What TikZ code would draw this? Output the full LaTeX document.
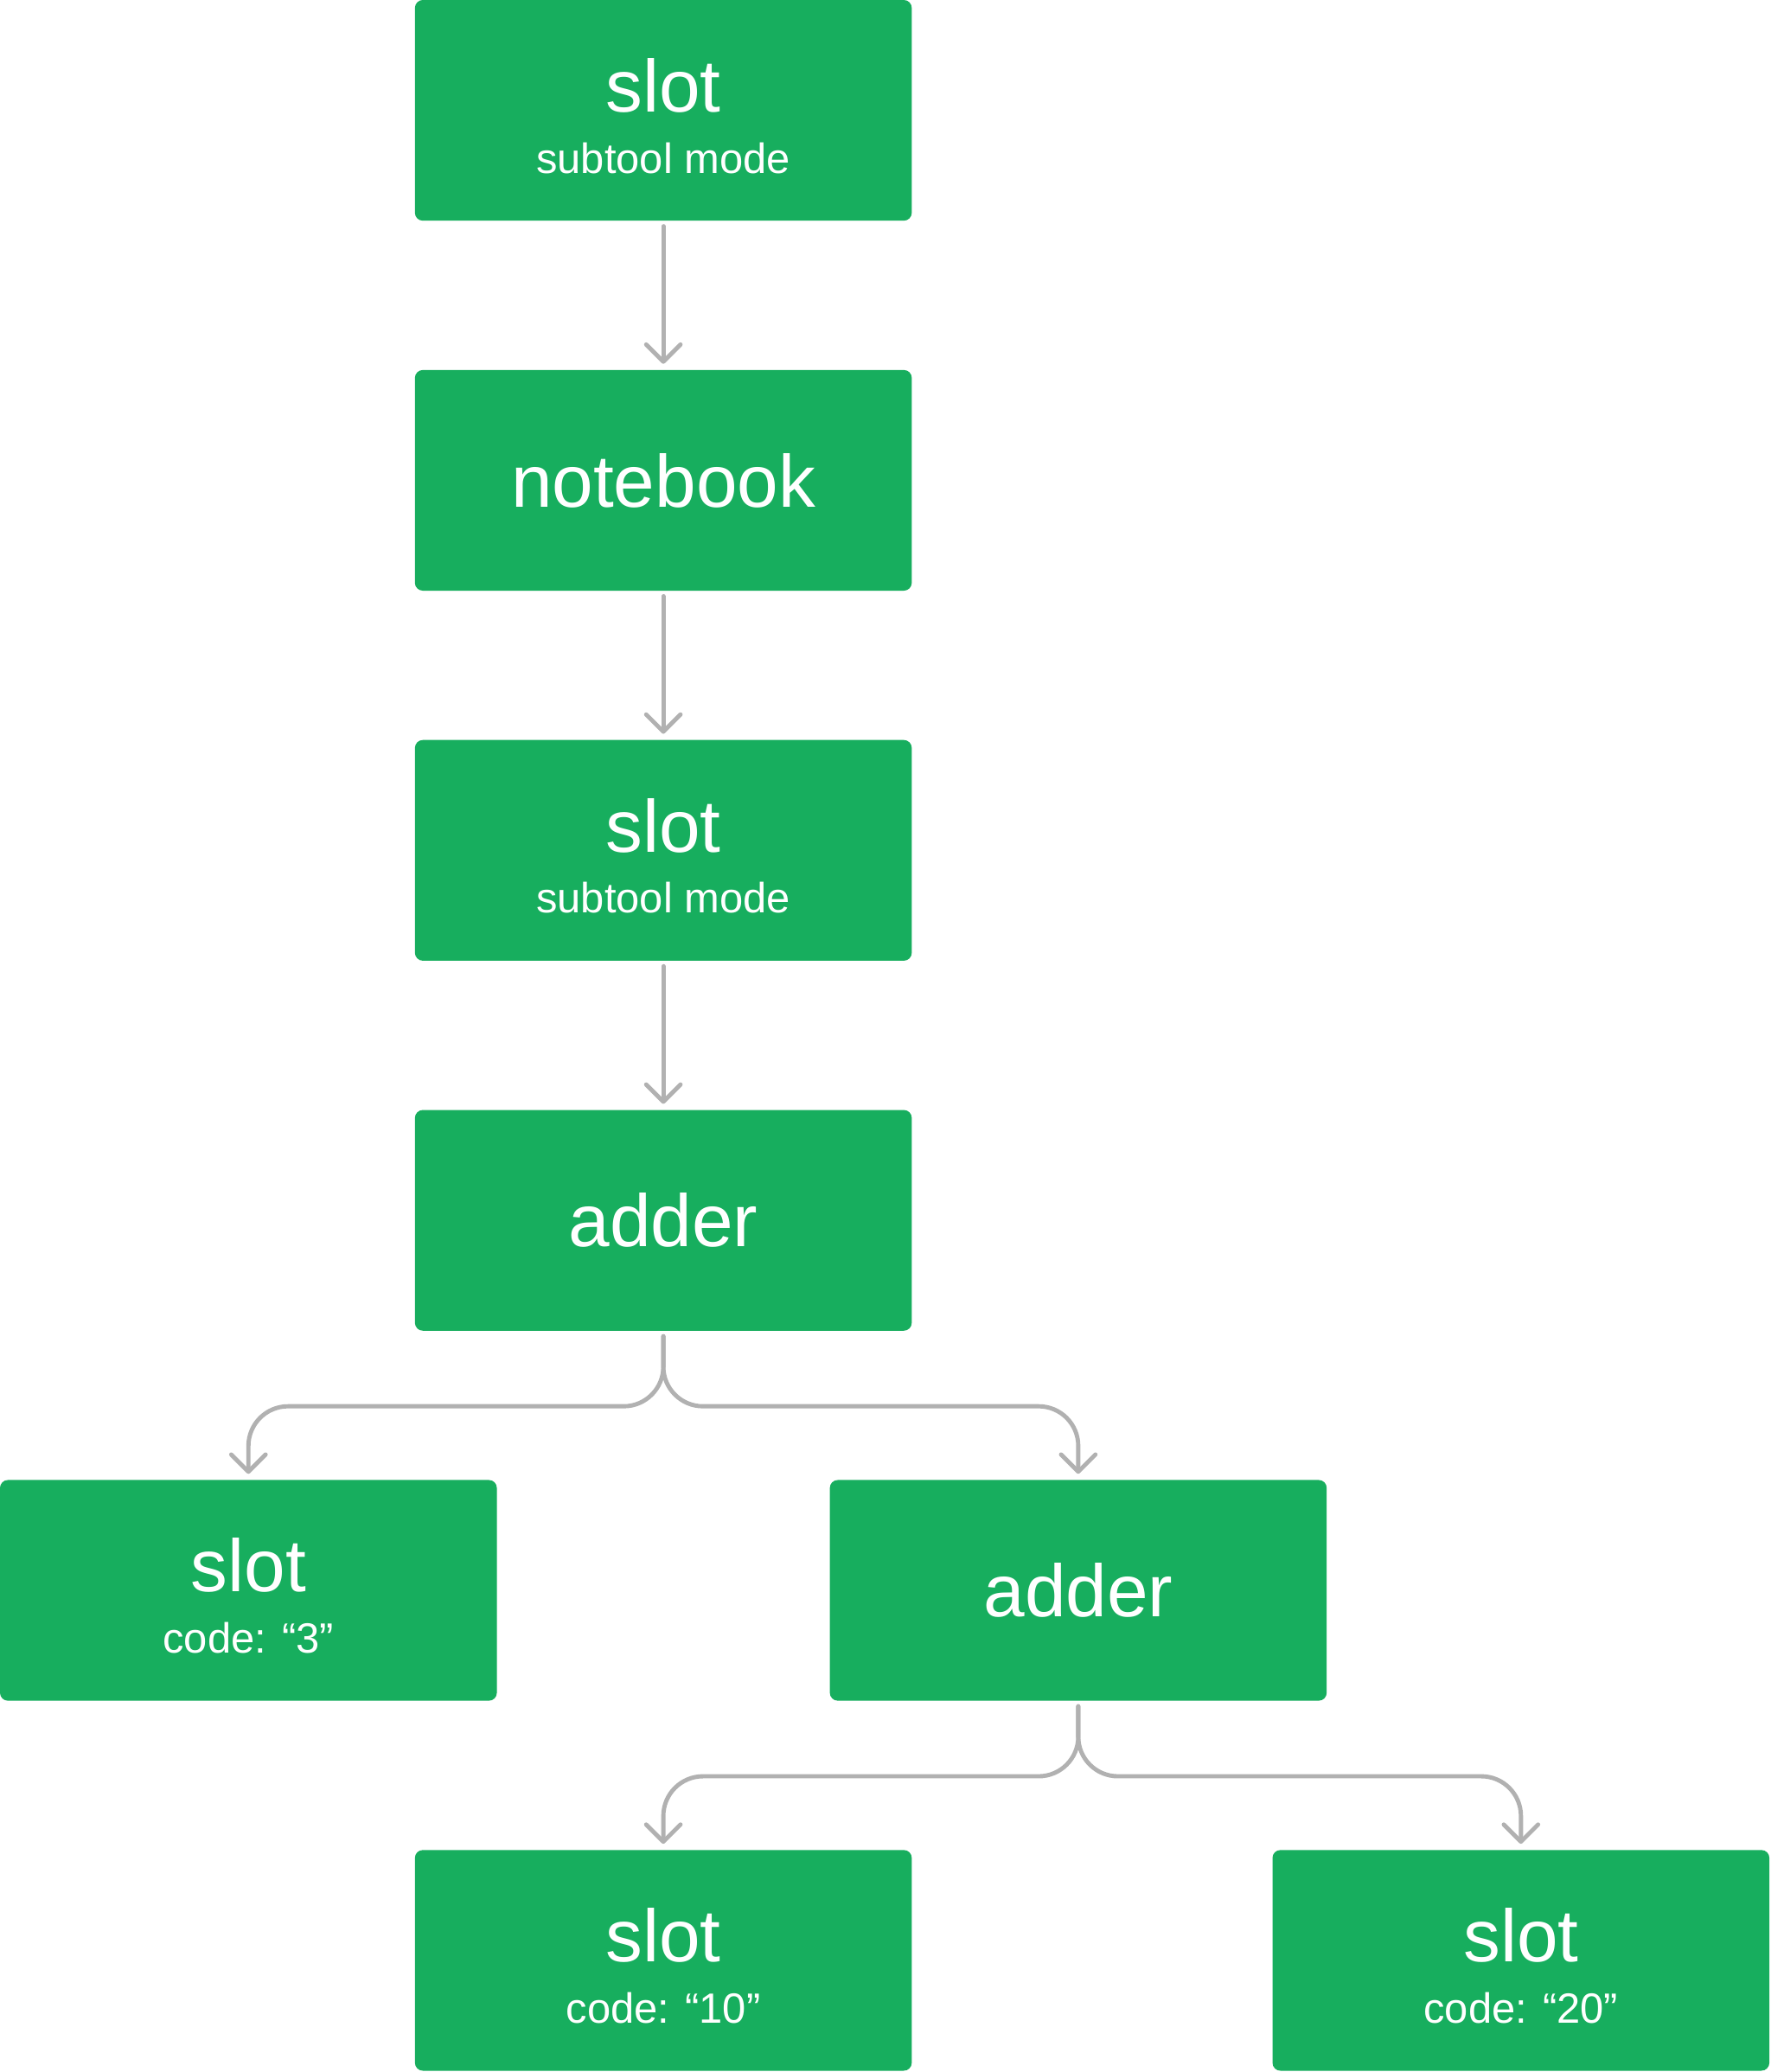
\documentclass[tikz,border=0pt]{standalone}
\usepackage{fontspec}
\setmainfont{Liberation Sans}
\usetikzlibrary{arrows.meta}
\definecolor{boxgreen}{HTML}{17AE5E}
\definecolor{linkgray}{HTML}{B1B1B1}
\tikzset{
  block/.style={fill=boxgreen,rounded corners=6pt,minimum width=376pt,minimum height=167pt,inner sep=0pt},
  blocktitle/.style={text=white,anchor=base,inner sep=0pt,font=\fontsize{56}{60}\selectfont},
  blocknote/.style={text=white,anchor=base,inner sep=0pt,font=\fontsize{32}{36}\selectfont},
  link/.style={draw=linkgray,line width=3.2pt,line cap=round,rounded corners=30pt,
    shorten <=4pt,shorten >=4.5pt,-{Straight Barb[length=13pt,width=26pt,line cap=round,line join=round]}},
}
\begin{document}
\begin{tikzpicture}[x=1pt,y=-1pt]
  \path[fill=white] (0,0) rectangle (1340,1568);
  % blocks
  \node[block] (slotA) at (502,83.5) {};
  \node[blocktitle] (slotAt) at (502,84.7) {slot};
  \node[blocknote] (slotAs) at (502,131) {subtool mode};
  \node[block] (book) at (502,363.5) {};
  \node[blocktitle] (bookt) at (502,383.5) {notebook};
  \node[block] (slotB) at (502,643.5) {};
  \node[blocktitle] (slotBt) at (502,644.7) {slot};
  \node[blocknote] (slotBs) at (502,691) {subtool mode};
  \node[block] (addA) at (502,923.5) {};
  \node[blocktitle] (addAt) at (502,943.5) {adder};
  \node[block] (slotC) at (188,1203.5) {};
  \node[blocktitle] (slotCt) at (188,1204.7) {slot};
  \node[blocknote] (slotCs) at (188,1251) {code: “3”};
  \node[block] (addB) at (816,1203.5) {};
  \node[blocktitle] (addBt) at (816,1223.5) {adder};
  \node[block] (slotD) at (502,1483.5) {};
  \node[blocktitle] (slotDt) at (502,1484.7) {slot};
  \node[blocknote] (slotDs) at (502,1531) {code: “10”};
  \node[block] (slotE) at (1151,1483.5) {};
  \node[blocktitle] (slotEt) at (1151,1484.7) {slot};
  \node[blocknote] (slotEs) at (1151,1531) {code: “20”};
  % links
  \draw[link] (slotA) -- (book);
  \draw[link] (book) -- (slotB);
  \draw[link] (slotB) -- (addA);
  \draw[link] (addA.south) -- ++(0,57) -| (slotC.north);
  \draw[link] (addA.south) -- ++(0,57) -| (addB.north);
  \draw[link] (addB.south) -- ++(0,57) -| (slotD.north);
  \draw[link] (addB.south) -- ++(0,57) -| (slotE.north);
\end{tikzpicture}
\end{document}
